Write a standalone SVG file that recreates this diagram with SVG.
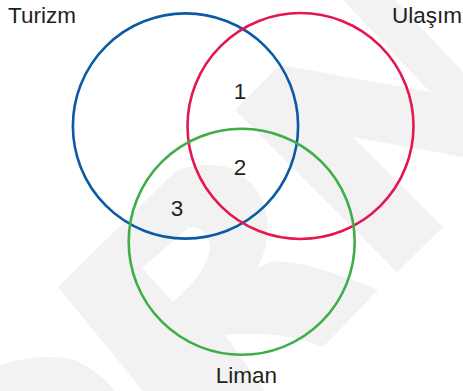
<svg xmlns="http://www.w3.org/2000/svg" width="463" height="391" viewBox="0 0 463 391">
<style>
.wm{fill:#f2f2f2;stroke:none}
.c{fill:none;stroke-width:2.6}
.t{font-family:"Liberation Sans",Arial,Helvetica,sans-serif;font-size:22.5px;fill:#231f20}
</style>
<rect width="463" height="391" fill="#ffffff"/>
<g id="watermark">
<path class="wm" d="M343 0 L395 0 L463 72 L463 97 L430 92 Z"/>
<path class="wm" d="M235 110 L280 65 L430 92 L463 97 L463 157 L353 137 L443 227 L397 272 Z"/>
<path class="wm" fill-rule="evenodd" d="M58 287 L175 172 Q200 160 230 168 Q265 185 268 225 Q268 250 257 268 L272 262 Q300 258 378 290 L323 347 Q280 330 225 335 L265 391 L143 391 Z M142 268 L188 228 Q205 225 210 245 Q210 270 173 302 Z"/>
<path class="wm" d="M0 365 Q40 352 75 360 Q100 372 115 391 L0 391 Z"/>
</g>
<g id="connectors"></g>
<g id="turizm">
<circle class="c" cx="185.5" cy="126" r="112.6" stroke="#0a5aa6"/>
<text class="t" x="8" y="23">Turizm</text>
</g>
<g id="ulasim">
<circle class="c" cx="300.5" cy="126" r="113" stroke="#e4174f"/>
<text class="t" x="462" y="23" text-anchor="end">Ulaşım</text>
</g>
<g id="liman">
<circle class="c" cx="241.7" cy="241.8" r="113" stroke="#3fae49"/>
<text class="t" x="246.5" y="383" text-anchor="middle">Liman</text>
</g>
<g id="region1"><text class="t" x="240" y="99" text-anchor="middle">1</text></g>
<g id="region2"><text class="t" x="240" y="175" text-anchor="middle">2</text></g>
<g id="region3"><text class="t" x="177" y="216" text-anchor="middle">3</text></g>
</svg>
